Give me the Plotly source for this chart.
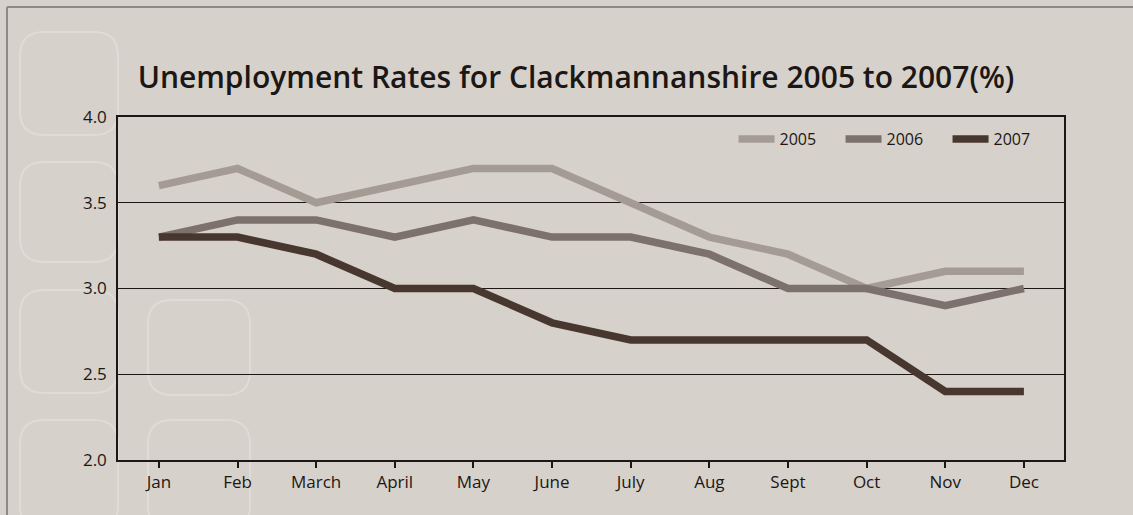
import plotly.graph_objects as go

months = ["Jan", "Feb", "March", "April", "May", "June", "July", "Aug", "Sept", "Oct", "Nov", "Dec"]
rate_2005 = [3.6, 3.7, 3.5, 3.6, 3.7, 3.7, 3.5, 3.3, 3.2, 3.0, 3.1, 3.1]
rate_2006 = [3.3, 3.4, 3.4, 3.3, 3.4, 3.3, 3.3, 3.2, 3.0, 3.0, 2.9, 3.0]
rate_2007 = [3.3, 3.3, 3.2, 3.0, 3.0, 2.8, 2.7, 2.7, 2.7, 2.7, 2.4, 2.4]
y_ticks = [2.0, 2.5, 3.0, 3.5, 4.0]

W, H = 1133, 515
ML, MR, MT, MB = 118, 69, 117, 55
PW, PH = W - ML - MR, H - MT - MB

BG = "#d6d1cb"
INK = "#1c1714"
FONT = "Open Sans"

series = [
    ("2005", rate_2005, "#a49b94"),
    ("2006", rate_2006, "#7c716c"),
    ("2007", rate_2007, "#47372f"),
]

fig = go.Figure()
x_idx = list(range(len(months)))
for name, vals, col in series:
    fig.add_trace(go.Scatter(
        x=x_idx, y=vals, name=name, mode="lines",
        line=dict(color=col, width=7.5),
    ))


def px_x(p):
    return (p - ML) / PW


def px_y(p):
    return (H - MB - p) / PH


def rounded_rect(x0, y0, x1, y1, r):
    # rounded rectangle path in paper coordinates from pixel corners
    pts = [
        f"M {px_x(x0 + r)},{px_y(y0)}",
        f"L {px_x(x1 - r)},{px_y(y0)}",
        f"Q {px_x(x1)},{px_y(y0)} {px_x(x1)},{px_y(y0 + r)}",
        f"L {px_x(x1)},{px_y(y1 - r)}",
        f"Q {px_x(x1)},{px_y(y1)} {px_x(x1 - r)},{px_y(y1)}",
        f"L {px_x(x0 + r)},{px_y(y1)}",
        f"Q {px_x(x0)},{px_y(y1)} {px_x(x0)},{px_y(y1 - r)}",
        f"L {px_x(x0)},{px_y(y0 + r)}",
        f"Q {px_x(x0)},{px_y(y0)} {px_x(x0 + r)},{px_y(y0)}",
        "Z",
    ]
    return " ".join(pts)


shapes = []
# faint decorative tiles in the background
tiles = [
    (20, 32, 118, 135), (20, 162, 118, 262), (20, 290, 118, 393), (20, 420, 118, 530),
    (148, 300, 250, 395), (148, 420, 250, 530),
]
for x0, y0, x1, y1 in tiles:
    shapes.append(dict(
        type="path", xref="paper", yref="paper", layer="below",
        path=rounded_rect(x0, y0, x1, y1, 24),
        line=dict(color="rgba(236,233,229,0.45)", width=2),
        fillcolor="rgba(0,0,0,0)",
    ))

# outer frame (top and left edges)
shapes.append(dict(type="line", xref="paper", yref="paper",
                   x0=px_x(7), y0=px_y(7), x1=px_x(W + 5), y1=px_y(7),
                   line=dict(color="#8a8a8a", width=2)))
shapes.append(dict(type="line", xref="paper", yref="paper",
                   x0=px_x(7), y0=px_y(7), x1=px_x(7), y1=px_y(H + 5),
                   line=dict(color="#8a8a8a", width=2)))

fig.update_layout(
    width=W, height=H,
    margin=dict(l=ML, r=MR, t=MT, b=MB),
    paper_bgcolor=BG,
    plot_bgcolor="rgba(0,0,0,0)",
    font=dict(family=FONT, color=INK),
    title=dict(
        text="Unemployment Rates for Clackmannanshire 2005 to 2007(%)",
        font=dict(family=FONT, size=30, color=INK, weight=600),
        x=576 / W, xanchor="center",
        y=1 - 77 / H, yanchor="middle",
    ),
    showlegend=True,
    legend=dict(
        orientation="h",
        x=0.99, xanchor="right",
        y=0.985, yanchor="top",
        bgcolor="rgba(0,0,0,0)",
        font=dict(family=FONT, size=16, color=INK),
        itemwidth=36,
        entrywidth=56, entrywidthmode="pixels",
    ),
    shapes=shapes,
)

fig.update_xaxes(
    range=[-0.52, 11.51],
    tickmode="array", tickvals=x_idx, ticktext=months,
    ticks="outside", ticklen=6, tickwidth=1.5, tickcolor=INK,
    showline=True, linecolor=INK, linewidth=1.5, mirror=True,
    showgrid=False, zeroline=False,
    tickfont=dict(family=FONT, size=17, color=INK),
)
fig.update_yaxes(
    range=[2.0, 4.0],
    tickmode="array", tickvals=y_ticks, ticktext=[f"{v:.1f}" for v in y_ticks],
    ticks="", ticklabelstandoff=6,
    showline=True, linecolor=INK, linewidth=1.5, mirror=True,
    showgrid=True, gridcolor=INK, gridwidth=1.3, zeroline=False,
    tickfont=dict(family=FONT, size=17, color=INK),
)

fig.write_html("out.html")
